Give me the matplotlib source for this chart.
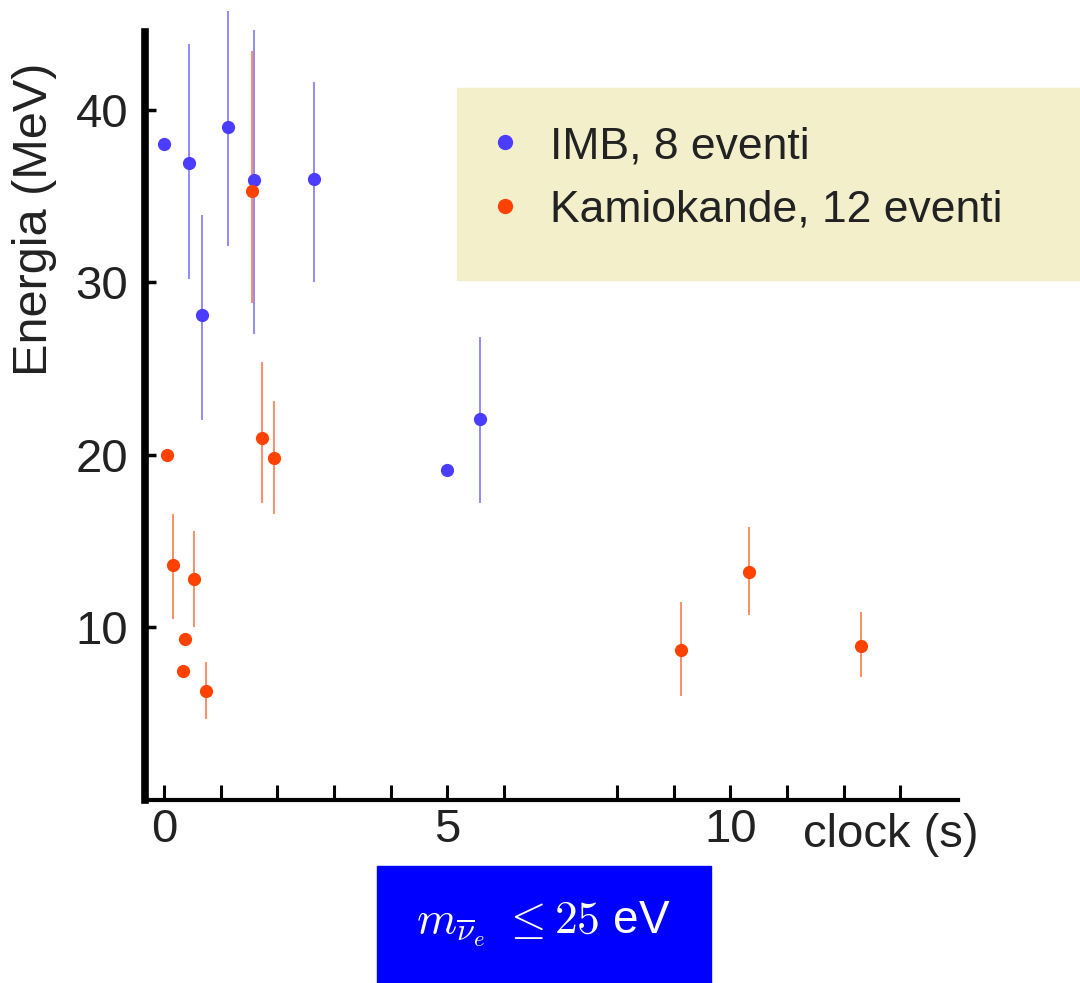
import numpy as np
import matplotlib
matplotlib.use("Agg")
import matplotlib.pyplot as plt
from matplotlib.patches import Rectangle
from matplotlib.lines import Line2D

plt.rcParams['font.family'] = ['Liberation Sans', 'DejaVu Sans']
plt.rcParams['mathtext.fontset'] = 'cm'

# IMB events (time s, energy MeV, error low/high)
imb_t = [0.0, 0.44, 0.67, 1.13, 1.59, 2.65, 5.0, 5.57]
imb_e = [38.0, 36.9, 28.1, 39.0, 35.9, 36.0, 19.1, 22.1]
imb_lo = [0.0, 6.7, 6.1, 6.9, 8.9, 6.0, 0.0, 4.9]
imb_hi = [0.0, 6.9, 5.8, 6.7, 8.7, 5.6, 0.0, 4.7]

# Kamiokande events
kam_t = [0.05, 0.15, 0.53, 0.37, 0.34, 0.74, 1.55, 1.73, 1.94, 9.13, 10.32, 12.3]
kam_e = [20.0, 13.6, 12.8, 9.3, 7.5, 6.3, 35.3, 21.0, 19.8, 8.7, 13.2, 8.9]
kam_lo = [0.0, 3.1, 2.8, 0.0, 0.0, 1.6, 6.5, 3.8, 3.2, 2.7, 2.5, 1.8]
kam_hi = [0.0, 3.0, 2.8, 0.0, 0.0, 1.7, 8.1, 4.4, 3.3, 2.8, 2.6, 2.0]

blue = '#4a3dff'
red = '#ff4200'

W, H = 1080, 983
fig = plt.figure(figsize=(W / 100, H / 100), dpi=100)
ax = fig.add_axes([145 / W, (H - 800) / H, (958 - 145) / W, (800 - 32) / H])

ax.errorbar(imb_t, imb_e, yerr=[imb_lo, imb_hi], fmt='none', ecolor=blue,
            alpha=0.7, elinewidth=1.2, clip_on=False)
ax.errorbar(kam_t, kam_e, yerr=[kam_lo, kam_hi], fmt='none', ecolor=red,
            alpha=0.7, elinewidth=1.2, clip_on=False)
ax.plot(imb_t, imb_e, 'o', color=blue, ms=9.5, mec='none', clip_on=False)
ax.plot(kam_t, kam_e, 'o', color=red, ms=9.5, mec='none', clip_on=False)

ax.set_xlim(-0.34, 14.02)
ax.set_ylim(0, 44.5)

for s in ['top', 'right']:
    ax.spines[s].set_visible(False)
ax.spines['left'].set_linewidth(5.5)
ax.spines['bottom'].set_linewidth(3)

ax.set_xticks([0, 1, 2, 3, 4, 5, 6, 8, 9, 10, 11, 12, 13])
ax.set_xticklabels(['0', '', '', '', '', '5', '', '', '', '10', '', '', ''])
ax.set_yticks([10, 20, 30, 40])
ax.tick_params(axis='x', direction='in', length=11, width=2.2, labelsize=34, pad=6)
ax.tick_params(axis='y', direction='in', length=8, width=2.5, labelsize=34, pad=12)
for lab in ax.get_xticklabels() + ax.get_yticklabels():
    lab.set_color('#222222')

ax.text(12.84, -0.75, 'clock (s)', fontsize=34, color='#222222',
        ha='center', va='top')
fig.text(35 / W, 1 - 219 / H, 'Energia (MeV)', rotation=90, fontsize=35,
         color='#222222', ha='center', va='center')

# legend box
fig.patches.append(Rectangle((457 / W, 1 - 280 / H), (W - 457) / W, (280 - 88) / H,
                             transform=fig.transFigure, color='#f3efcb', zorder=0))
handles = [Line2D([], [], ls='none', marker='o', color=blue, ms=11, mec='none'),
           Line2D([], [], ls='none', marker='o', color=red, ms=11, mec='none')]
fig.legend(handles, ['IMB, 8 eventi', 'Kamiokande, 12 eventi'], frameon=False,
           loc='upper left', bbox_to_anchor=(494 / W, 1 - 126 / H),
           fontsize=32, handlelength=0.5, handletextpad=0.75,
           labelspacing=0.5, borderpad=0, borderaxespad=0,
           labelcolor='#222222')

# bottom blue box
fig.patches.append(Rectangle((377 / W, 0), (711 - 377) / W, (H - 866) / H,
                             transform=fig.transFigure, color='#0000ff', zorder=0))
fig.text(543 / W, 1 - 924 / H, r'$m_{\overline{\nu}_e}\ \leq 25$ eV', color='white',
         fontsize=33, ha='center', va='center')

fig.savefig('out.png', dpi=100)
